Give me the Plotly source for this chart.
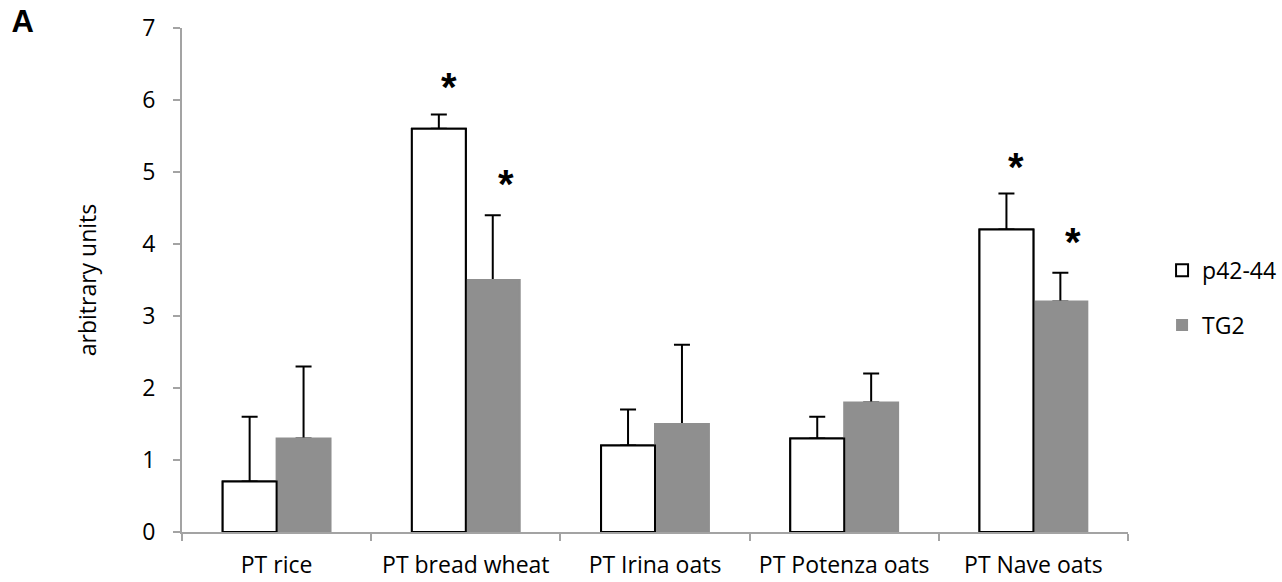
import plotly.graph_objects as go

# Measured response per peptide treatment (mean and upper SD)
categories = ["PT rice", "PT bread wheat", "PT Irina oats", "PT Potenza oats", "PT Nave oats"]
p42_44 = [0.7, 5.6, 1.2, 1.3, 4.2]
p42_44_err = [0.9, 0.2, 0.5, 0.3, 0.5]
tg2 = [1.3, 3.5, 1.5, 1.8, 3.2]
tg2_err = [1.0, 0.9, 1.1, 0.4, 0.4]
p42_44_sig = [False, True, False, False, True]
tg2_sig = [False, True, False, False, True]
y_ticks = [0, 1, 2, 3, 4, 5, 6, 7]

FONT = "Open Sans"
FS = 23
GRAY = "#8f8f8f"
AXIS = "#a3a3a3"
BW = 0.285  # width of one bar, in category units

fig = go.Figure()

err_style = dict(type="data", symmetric=False, color="black", thickness=2, width=8)

# bars carrying the (upward only) error bars
fig.add_trace(go.Bar(
    x=categories, y=p42_44, name="p42-44", legendgroup="p42",
    offset=-BW, width=BW,
    marker=dict(color="white", line=dict(color="black", width=2)),
    error_y=dict(array=p42_44_err, arrayminus=[0] * len(p42_44), **err_style),
))
fig.add_trace(go.Bar(
    x=categories, y=tg2, name="TG2", legendgroup="tg2",
    offset=0, width=BW,
    marker=dict(color=GRAY, line=dict(color=GRAY, width=0)),
    error_y=dict(array=tg2_err, arrayminus=[0] * len(tg2), **err_style),
))
# repaint the bar bodies so the error bars only rise from the bar tops
fig.add_trace(go.Bar(
    x=categories, y=tg2, legendgroup="tg2", showlegend=False, hoverinfo="skip",
    offset=0, width=BW,
    marker=dict(color=GRAY, line=dict(color=GRAY, width=2)),
))
fig.add_trace(go.Bar(
    x=categories, y=p42_44, legendgroup="p42", showlegend=False, hoverinfo="skip",
    offset=-BW, width=BW,
    marker=dict(color="white", line=dict(color="black", width=2)),
))

# significance asterisks above the error bars
star_font = dict(family="Liberation Sans", size=40, color="black")
annotations = []
for i, (v, e, s) in enumerate(zip(p42_44, p42_44_err, p42_44_sig)):
    if s:
        annotations.append(dict(x=i - BW / 2, y=v + e, xref="x", yref="y",
                                yanchor="bottom", yshift=3,
                                text="<b>*</b>", showarrow=False, xshift=10,
                                font=star_font))
for i, (v, e, s) in enumerate(zip(tg2, tg2_err, tg2_sig)):
    if s:
        annotations.append(dict(x=i + BW / 2, y=v + e, xref="x", yref="y",
                                yanchor="bottom", yshift=7,
                                text="<b>*</b>", showarrow=False, xshift=13,
                                font=star_font))

fig.update_layout(
    width=1282, height=582,
    margin=dict(l=182, r=154, t=28, b=50, autoexpand=False),
    paper_bgcolor="white", plot_bgcolor="white",
    barmode="overlay",
    font=dict(family=FONT, size=FS, color="black"),
    title=dict(text="<b>A</b>", x=0.009, xref="container", xanchor="left",
               y=0.982, yref="container", yanchor="top",
               font=dict(family="Liberation Sans", size=31, color="black")),
    xaxis=dict(
        type="category", showline=True, linecolor=AXIS, linewidth=2,
        ticks="outside", tickson="boundaries", ticklen=7, tickcolor=AXIS, tickwidth=2,
        showgrid=False, zeroline=False, ticklabelstandoff=11,
        tickfont=dict(family=FONT, size=FS, color="black"),
    ),
    yaxis=dict(
        range=[0, 7], tickvals=y_ticks, showline=True, linecolor=AXIS, linewidth=2,
        ticks="outside", ticklen=7, tickcolor=AXIS, tickwidth=2,
        showgrid=False, zeroline=False, ticklabelstandoff=13,
        tickfont=dict(family=FONT, size=FS, color="black"),
        title=dict(text="arbitrary units", standoff=39,
                   font=dict(family=FONT, size=FS, color="black")),
    ),
    legend=dict(
        x=1.036, y=0.562, xanchor="left", yanchor="top",
        traceorder="grouped", tracegroupgap=22,
        font=dict(family=FONT, size=FS, color="black"),
        bgcolor="rgba(0,0,0,0)",
    ),
    annotations=annotations,
    showlegend=True,
)

fig.write_html("out.html")
